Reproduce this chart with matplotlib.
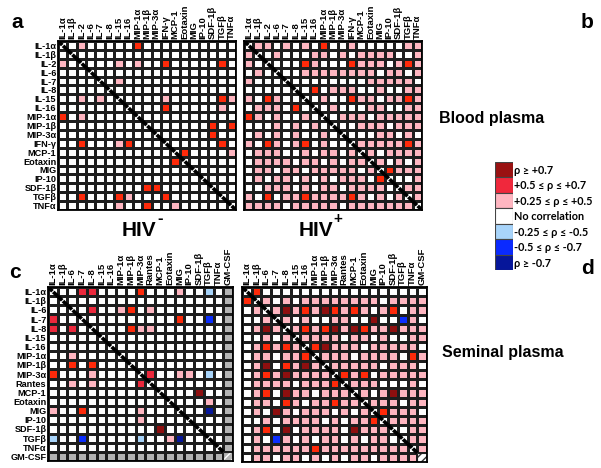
import numpy as np
import matplotlib
matplotlib.use("Agg")
import matplotlib.pyplot as plt
from matplotlib.colors import ListedColormap
from matplotlib.patches import Rectangle

plt.rcParams['font.family'] = ['Liberation Sans Narrow', 'Liberation Sans', 'DejaVu Sans']
plt.rcParams['hatch.linewidth'] = 1.0

W, H = 601, 468

# -----------------------------
# analytes
LABELS_BLOOD = ["IL-1α", "IL-1β", "IL-2", "IL-6", "IL-7", "IL-8", "IL-15", "IL-16",
                "MIP-1α", "MIP-1β", "MIP-3α", "IFN-γ", "MCP-1", "Eotaxin", "MIG",
                "IP-10", "SDF-1β", "TGFβ", "TNFα"]
LABELS_SEMEN = ["IL-1α", "IL-1β", "IL-6", "IL-7", "IL-8", "IL-15", "IL-16",
                "MIP-1α", "MIP-1β", "MIP-3α", "Rantes", "MCP-1", "Eotaxin", "MIG",
                "IP-10", "SDF-1β", "TGFβ", "TNFα", "GM-CSF"]

# lower triangle of each matrix, row r holds columns 0..r-1
# . none, p +0.25..0.5, r/c +0.5..0.7, d >=0.7, l -0.25..-0.5, b -0.5..-0.7, n <=-0.7, g no data
A_LOWER = [
    ".",
    "p.",
    "...",
    "....",
    ".....",
    "..p.p.",
    ".......",
    "r.p.....",
    ".........",
    "..........",
    "..r...pr...",
    "............",
    "............r",
    "..............",
    "...............",
    ".........rr.....",
    "..r...rp...r.....",
    "......p..r..p.....",
]

B_LOWER = [
    "p",
    "p.",
    ".p.",
    "p...",
    ".....",
    "p.rp..",
    ".ppp.r.",
    "rp.p..p.",
    "...p.p.p.",
    ".p.p.p..p.",
    "p.rp.pr.p..",
    ".ppp..p.pp.p",
    ".pppp.pp.p.pp",
    ".pp.pp.ppppp.p",
    ".p.pp.p.p.ppp.r",
    "..ppp.p.pp.pppp.",
    "p.r.pprpppprp.p.p",
    "pppp.ppppp.ppppppp",
]

C_LOWER = [
    ".",
    "..",
    "c..",
    "c.c.",
    ".....",
    "......",
    "..p....",
    "..r.r...",
    "r...p....",
    "..p.p....c",
    "...........",
    "............",
    "p..r.....p...",
    ".........p....",
    "...........d...",
    "l..b.....l..pn..",
    ".................",
    "gggggggggggggggggg",
]

D_LOWER = [
    "r",
    ".p",
    "..p",
    ".pdp",
    "..p.p",
    ".prprp",
    ".pp.ppr",
    ".pd.rpdp",
    ".prpdpppp",
    ".pppp.pppr",
    ".pr.dpp.ppp",
    ".pp.rp.pprpp",
    ".p.dp.ppp.p.p",
    "..p.pppp.p.ppr",
    ".pr.d.pppp.dppp",
    ".p.bp.p.pp.p.pp.",
    ".pppppprppppppppp",
    ".pp.pp.p.p.pp.pppp",
]

LEGEND_TEXT = ["ρ ≥ +0.7", "+0.5 ≤ ρ ≤ +0.7", "+0.25 ≤ ρ ≤ +0.5", "No correlation",
               "-0.25 ≤ ρ ≤ -0.5", "-0.5 ≤ ρ ≤ -0.7", "ρ ≥ -0.7"]
LEGEND_COLORS = ["#9a1212", "#f0283c", "#ffb6c1", "white", "#a8d4fa", "#0a2aff", "#06169a"]

CODES = ".prcdlbng"
CELL_COLORS = ["white", "#ffb6c1", "#ff2a0a", "#ec283c", "#8e0f0f",
               "#a8d4fa", "#0b2eff", "#07189a", "#b4b4b4"]
CMAP = ListedColormap(CELL_COLORS)


def build_matrix(lower):
    n = len(lower) + 1
    M = np.zeros((n, n), int)
    for r, row in enumerate(lower, start=1):
        for c, ch in enumerate(row):
            M[r, c] = M[c, r] = CODES.index(ch)
    return M


def px_axes(fig, x0, y0, x1, y1):
    return fig.add_axes([x0 / W, 1 - y1 / H, (x1 - x0) / W, (y1 - y0) / H])


def draw_panel(ax, lower, labels, show_rows, last_hatch=None):
    M = build_matrix(lower)
    n = M.shape[0]
    ax.pcolormesh(M, cmap=CMAP, vmin=-0.5, vmax=len(CODES) - 0.5,
                  edgecolors="#1e1e1e", linewidth=0.8)
    ax.set_xlim(0, n)
    ax.set_ylim(n, 0)
    ndiag = n if last_hatch is None else n - 1
    for i in range(ndiag):
        ax.plot([i, i + 1], [i, i + 1], color="black", lw=2.6, solid_capstyle="butt")
        ax.plot([i + 0.32, i + 0.68], [i + 0.68, i + 0.32], color="white", lw=0.8)
    if last_hatch:
        face, hc = last_hatch
        ax.add_patch(Rectangle((n - 1, n - 1), 1, 1, facecolor=face, edgecolor=hc,
                               hatch="////", lw=0))
        ax.add_patch(Rectangle((n - 1, n - 1), 1, 1, fill=False,
                               edgecolor="#1e1e1e", lw=0.8))
    ax.xaxis.tick_top()
    ax.set_xticks(np.arange(n) + 0.5)
    ax.set_xticklabels(labels, rotation=90, fontsize=6.8, fontweight="bold")
    ax.set_yticks(np.arange(n) + 0.5)
    if show_rows:
        ax.set_yticklabels(labels, fontsize=6.6, fontweight="bold")
    else:
        ax.set_yticklabels([])
    ax.tick_params(length=0, pad=1.2)
    for s in ax.spines.values():
        s.set_linewidth(1.3)


fig = plt.figure(figsize=(W / 100, H / 100), dpi=100)

ax_a = px_axes(fig, 58, 41, 236, 210)
draw_panel(ax_a, A_LOWER, LABELS_BLOOD, True)
ax_b = px_axes(fig, 244, 41, 422, 210)
draw_panel(ax_b, B_LOWER, LABELS_BLOOD, False)
ax_c = px_axes(fig, 48, 287, 233, 461)
draw_panel(ax_c, C_LOWER, LABELS_SEMEN, True, last_hatch=("#b4b4b4", "white"))
ax_d = px_axes(fig, 242, 287, 427, 462)
draw_panel(ax_d, D_LOWER, LABELS_SEMEN, False, last_hatch=("white", "#333333"))

bold = dict(fontweight="bold", family=["Liberation Sans", "DejaVu Sans"])
for letter, x, y in [("a", 17, 22), ("b", 587, 22), ("c", 15, 272), ("d", 587, 268)]:
    fig.text(x / W, 1 - y / H, letter, fontsize=15, ha="center", va="center", **bold)

fig.text(139 / W, 1 - 231 / H, "HIV", fontsize=15, ha="center", va="center", **bold)
fig.text(160 / W, 1 - 218 / H, "-", fontsize=12, ha="center", va="center", **bold)
fig.text(316 / W, 1 - 231 / H, "HIV", fontsize=15, ha="center", va="center", **bold)
fig.text(338 / W, 1 - 219 / H, "+", fontsize=11, ha="center", va="center", **bold)

fig.text(492 / W, 1 - 118 / H, "Blood plasma", fontsize=11.5, ha="center", va="center", **bold)
fig.text(503 / W, 1 - 353 / H, "Seminal plasma", fontsize=11.5, ha="center", va="center", **bold)

# legend
ax_l = px_axes(fig, 495, 162, 513, 270)
nl = len(LEGEND_TEXT)
ax_l.set_xlim(0, 1)
ax_l.set_ylim(nl, 0)
ax_l.axis("off")
for i, (txt, col) in enumerate(zip(LEGEND_TEXT, LEGEND_COLORS)):
    ax_l.add_patch(Rectangle((0, i), 1, 1, facecolor=col, edgecolor="#444444", lw=0.8))
    ax_l.text(1.08, i + 0.55, txt, fontsize=7.8, fontweight="bold", va="center", ha="left",
              family=["Lato", "DejaVu Sans"])

fig.savefig("out.png", dpi=100)
